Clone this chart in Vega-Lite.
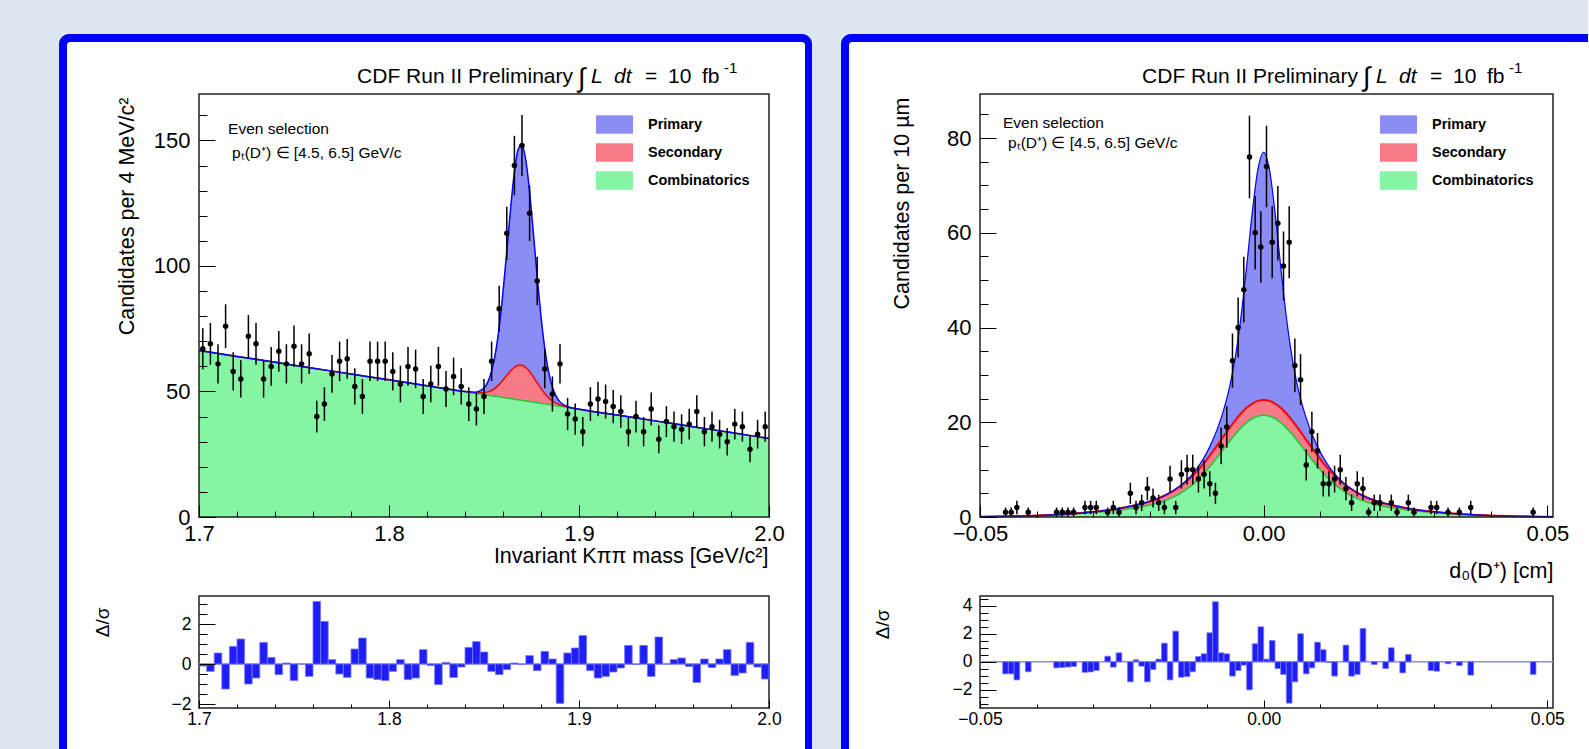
{
"$schema": "https://vega.github.io/schema/vega-lite/v6.json",
"background": "#dce6f1",
"padding": {"left": 59, "top": 33, "right": 0, "bottom": 0},
"config": {
  "font": "Liberation Sans",
  "view": {"stroke": null},
  "axis": {"domain": false, "grid": false, "labelColor": "#000", "tickColor": "#000", "titleColor": "#000", "titleFontWeight": "normal", "labelFlush": false, "labelOverlap": false, "tickWidth": 1, "labelFont": "Liberation Sans", "titleFont": "Liberation Sans"}
},
"datasets": {
"lpts": [{"m":1.702,"n":67,"e":8.19},{"m":1.706,"n":69,"e":8.31},{"m":1.710,"n":61,"e":7.81},{"m":1.714,"n":76,"e":8.72},{"m":1.718,"n":58,"e":7.62},{"m":1.722,"n":55,"e":7.42},{"m":1.726,"n":72,"e":8.49},{"m":1.730,"n":69,"e":8.31},{"m":1.734,"n":55,"e":7.42},{"m":1.738,"n":60,"e":7.75},{"m":1.742,"n":66,"e":8.12},{"m":1.746,"n":61,"e":7.81},{"m":1.750,"n":68,"e":8.25},{"m":1.754,"n":61,"e":7.81},{"m":1.758,"n":65,"e":8.06},{"m":1.762,"n":40,"e":6.32},{"m":1.766,"n":45,"e":6.71},{"m":1.770,"n":57,"e":7.55},{"m":1.774,"n":62,"e":7.87},{"m":1.778,"n":63,"e":7.94},{"m":1.782,"n":52,"e":7.21},{"m":1.786,"n":48,"e":6.93},{"m":1.790,"n":62,"e":7.87},{"m":1.794,"n":62,"e":7.87},{"m":1.798,"n":62,"e":7.87},{"m":1.802,"n":58,"e":7.62},{"m":1.806,"n":53,"e":7.28},{"m":1.810,"n":60,"e":7.75},{"m":1.814,"n":59,"e":7.68},{"m":1.818,"n":48,"e":6.93},{"m":1.822,"n":53,"e":7.28},{"m":1.826,"n":60,"e":7.75},{"m":1.830,"n":51,"e":7.14},{"m":1.834,"n":56,"e":7.48},{"m":1.838,"n":52,"e":7.21},{"m":1.842,"n":45,"e":6.71},{"m":1.846,"n":43,"e":6.56},{"m":1.850,"n":48,"e":6.93},{"m":1.854,"n":62,"e":7.87},{"m":1.858,"n":83,"e":9.11},{"m":1.862,"n":113,"e":10.63},{"m":1.866,"n":140,"e":11.83},{"m":1.870,"n":148,"e":12.17},{"m":1.874,"n":121,"e":11.0},{"m":1.878,"n":94,"e":9.7},{"m":1.882,"n":59,"e":7.68},{"m":1.886,"n":49,"e":7.0},{"m":1.890,"n":61,"e":7.81},{"m":1.894,"n":41,"e":6.4},{"m":1.898,"n":39,"e":6.24},{"m":1.902,"n":34,"e":5.83},{"m":1.906,"n":45,"e":6.71},{"m":1.910,"n":47,"e":6.86},{"m":1.914,"n":46,"e":6.78},{"m":1.918,"n":44,"e":6.63},{"m":1.922,"n":42,"e":6.48},{"m":1.926,"n":34,"e":5.83},{"m":1.930,"n":40,"e":6.32},{"m":1.934,"n":34,"e":5.83},{"m":1.938,"n":43,"e":6.56},{"m":1.942,"n":31,"e":5.57},{"m":1.946,"n":38,"e":6.16},{"m":1.950,"n":36,"e":6.0},{"m":1.954,"n":35,"e":5.92},{"m":1.958,"n":37,"e":6.08},{"m":1.962,"n":42,"e":6.48},{"m":1.966,"n":34,"e":5.83},{"m":1.970,"n":36,"e":6.0},{"m":1.974,"n":33,"e":5.74},{"m":1.978,"n":30,"e":5.48},{"m":1.982,"n":37,"e":6.08},{"m":1.986,"n":36,"e":6.0},{"m":1.990,"n":27,"e":5.2},{"m":1.994,"n":33,"e":5.74},{"m":1.998,"n":36,"e":6.0}],
"lfit": [{"m":1.70,"comb":66.3,"sec":66.3,"tot":66.3},{"m":1.72,"comb":63.97,"sec":63.97,"tot":63.97},{"m":1.74,"comb":61.63,"sec":61.63,"tot":61.63},{"m":1.76,"comb":59.3,"sec":59.3,"tot":59.3},{"m":1.78,"comb":56.96,"sec":56.96,"tot":56.96},{"m":1.80,"comb":54.63,"sec":54.63,"tot":54.63},{"m":1.82,"comb":52.29,"sec":52.29,"tot":52.29},{"m":1.84,"comb":49.96,"sec":49.97,"tot":49.97},{"m":1.845,"comb":49.38,"sec":49.51,"tot":49.7},{"m":1.85,"comb":48.8,"sec":49.52,"tot":51.32},{"m":1.852,"comb":48.56,"sec":49.84,"tot":53.74},{"m":1.854,"comb":48.33,"sec":50.47,"tot":58.07},{"m":1.856,"comb":48.1,"sec":51.47,"tot":65.17},{"m":1.858,"comb":47.86,"sec":52.84,"tot":75.64},{"m":1.86,"comb":47.63,"sec":54.55,"tot":89.55},{"m":1.862,"comb":47.4,"sec":56.42,"tot":106.02},{"m":1.864,"comb":47.16,"sec":58.21,"tot":122.81},{"m":1.866,"comb":46.93,"sec":59.65,"tot":137.35},{"m":1.868,"comb":46.7,"sec":60.46,"tot":146.46},{"m":1.87,"comb":46.46,"sec":60.43,"tot":148.23},{"m":1.872,"comb":46.23,"sec":59.56,"tot":142.16},{"m":1.874,"comb":46.0,"sec":57.95,"tot":129.55},{"m":1.876,"comb":45.76,"sec":55.83,"tot":113.03},{"m":1.878,"comb":45.53,"sec":53.49,"tot":95.59},{"m":1.88,"comb":45.29,"sec":51.21,"tot":79.81},{"m":1.882,"comb":45.06,"sec":49.19,"tot":67.09},{"m":1.884,"comb":44.83,"sec":47.54,"tot":57.84},{"m":1.886,"comb":44.59,"sec":46.26,"tot":51.76},{"m":1.888,"comb":44.36,"sec":45.33,"tot":48.03},{"m":1.89,"comb":44.13,"sec":44.66,"tot":45.86},{"m":1.895,"comb":43.54,"sec":43.63,"tot":43.73},{"m":1.90,"comb":42.96,"sec":42.96,"tot":42.96},{"m":1.92,"comb":40.62,"sec":40.62,"tot":40.62},{"m":1.94,"comb":38.29,"sec":38.29,"tot":38.29},{"m":1.96,"comb":35.96,"sec":35.96,"tot":35.96},{"m":1.98,"comb":33.62,"sec":33.62,"tot":33.62},{"m":2.0,"comb":31.29,"sec":31.29,"tot":31.29}],
"lres": [{"a":1.700,"b":1.704,"r":-0.1},{"a":1.704,"b":1.708,"r":-0.37},{"a":1.708,"b":1.712,"r":0.55},{"a":1.712,"b":1.716,"r":-1.25},{"a":1.716,"b":1.720,"r":0.88},{"a":1.720,"b":1.724,"r":1.25},{"a":1.724,"b":1.728,"r":-1.0},{"a":1.728,"b":1.732,"r":-0.7},{"a":1.732,"b":1.736,"r":1.08},{"a":1.736,"b":1.740,"r":0.33},{"a":1.740,"b":1.744,"r":-0.53},{"a":1.744,"b":1.748,"r":0.05},{"a":1.748,"b":1.752,"r":-0.83},{"a":1.752,"b":1.756,"r":0},{"a":1.756,"b":1.760,"r":-0.62},{"a":1.760,"b":1.764,"r":3.13},{"a":1.764,"b":1.768,"r":2.13},{"a":1.768,"b":1.772,"r":0.22},{"a":1.772,"b":1.776,"r":-0.5},{"a":1.776,"b":1.780,"r":-0.67},{"a":1.780,"b":1.784,"r":0.75},{"a":1.784,"b":1.788,"r":1.3},{"a":1.788,"b":1.792,"r":-0.7},{"a":1.792,"b":1.796,"r":-0.78},{"a":1.796,"b":1.800,"r":-0.83},{"a":1.800,"b":1.804,"r":-0.37},{"a":1.804,"b":1.808,"r":0.22},{"a":1.808,"b":1.812,"r":-0.78},{"a":1.812,"b":1.816,"r":-0.7},{"a":1.816,"b":1.820,"r":0.72},{"a":1.820,"b":1.824,"r":-0.08},{"a":1.824,"b":1.828,"r":-1.03},{"a":1.828,"b":1.832,"r":0.08},{"a":1.832,"b":1.836,"r":-0.67},{"a":1.836,"b":1.840,"r":-0.15},{"a":1.840,"b":1.844,"r":0.83},{"a":1.844,"b":1.848,"r":1.12},{"a":1.848,"b":1.852,"r":0.6},{"a":1.852,"b":1.856,"r":-0.37},{"a":1.856,"b":1.860,"r":-0.53},{"a":1.860,"b":1.864,"r":-0.28},{"a":1.864,"b":1.868,"r":0.05},{"a":1.868,"b":1.872,"r":-0.03},{"a":1.872,"b":1.876,"r":0.42},{"a":1.876,"b":1.880,"r":-0.33},{"a":1.880,"b":1.884,"r":0.63},{"a":1.884,"b":1.888,"r":0.25},{"a":1.888,"b":1.892,"r":-1.97},{"a":1.892,"b":1.896,"r":0.55},{"a":1.896,"b":1.900,"r":0.8},{"a":1.900,"b":1.904,"r":1.42},{"a":1.904,"b":1.908,"r":-0.33},{"a":1.908,"b":1.912,"r":-0.7},{"a":1.912,"b":1.916,"r":-0.62},{"a":1.916,"b":1.920,"r":-0.4},{"a":1.920,"b":1.924,"r":-0.2},{"a":1.924,"b":1.928,"r":0.93},{"a":1.928,"b":1.932,"r":-0.03},{"a":1.932,"b":1.936,"r":0.93},{"a":1.936,"b":1.940,"r":-0.62},{"a":1.940,"b":1.944,"r":1.35},{"a":1.944,"b":1.948,"r":0},{"a":1.948,"b":1.952,"r":0.22},{"a":1.952,"b":1.956,"r":0.3},{"a":1.956,"b":1.960,"r":-0.12},{"a":1.960,"b":1.964,"r":-0.92},{"a":1.964,"b":1.968,"r":0.25},{"a":1.968,"b":1.972,"r":-0.17},{"a":1.972,"b":1.976,"r":0.25},{"a":1.976,"b":1.980,"r":0.72},{"a":1.980,"b":1.984,"r":-0.57},{"a":1.984,"b":1.988,"r":-0.45},{"a":1.988,"b":1.992,"r":1.08},{"a":1.992,"b":1.996,"r":-0.15},{"a":1.996,"b":2.000,"r":-0.75}],
"rpts": [{"d":-0.0455,"n":1,"e":1},{"d":-0.0445,"n":1,"e":1},{"d":-0.0435,"n":2,"e":1.41},{"d":-0.0415,"n":1,"e":1},{"d":-0.0365,"n":1,"e":1},{"d":-0.0355,"n":1,"e":1},{"d":-0.0345,"n":1,"e":1},{"d":-0.0335,"n":1,"e":1},{"d":-0.0315,"n":2,"e":1.41},{"d":-0.0305,"n":2,"e":1.41},{"d":-0.0295,"n":2,"e":1.41},{"d":-0.0275,"n":1,"e":1},{"d":-0.0265,"n":2,"e":1.41},{"d":-0.0255,"n":1,"e":1},{"d":-0.0235,"n":5,"e":2.24},{"d":-0.0225,"n":2,"e":1.41},{"d":-0.0215,"n":3,"e":1.73},{"d":-0.0205,"n":6,"e":2.45},{"d":-0.0195,"n":4,"e":2},{"d":-0.0185,"n":3,"e":1.73},{"d":-0.0175,"n":2,"e":1.41},{"d":-0.0165,"n":8,"e":2.83},{"d":-0.0155,"n":2,"e":1.41},{"d":-0.0145,"n":9,"e":3},{"d":-0.0135,"n":10,"e":3.16},{"d":-0.0125,"n":10,"e":3.16},{"d":-0.0115,"n":8,"e":2.83},{"d":-0.0105,"n":9,"e":3},{"d":-0.0095,"n":7,"e":2.65},{"d":-0.0085,"n":5,"e":2.24},{"d":-0.0075,"n":15,"e":3.87},{"d":-0.0065,"n":19,"e":4.36},{"d":-0.0055,"n":33,"e":5.74},{"d":-0.0045,"n":40,"e":6.32},{"d":-0.0035,"n":48,"e":6.93},{"d":-0.0025,"n":76,"e":8.72},{"d":-0.0015,"n":60,"e":7.75},{"d":-0.0005,"n":57,"e":7.55},{"d":0.0005,"n":74,"e":8.6},{"d":0.0015,"n":58,"e":7.62},{"d":0.0025,"n":62,"e":7.87},{"d":0.0035,"n":53,"e":7.28},{"d":0.0045,"n":58,"e":7.62},{"d":0.0055,"n":32,"e":5.66},{"d":0.0065,"n":29,"e":5.39},{"d":0.0075,"n":11,"e":3.32},{"d":0.0085,"n":18,"e":4.24},{"d":0.0095,"n":14,"e":3.74},{"d":0.0105,"n":7,"e":2.65},{"d":0.0115,"n":7,"e":2.65},{"d":0.0125,"n":8,"e":2.83},{"d":0.0135,"n":10,"e":3.16},{"d":0.0145,"n":6,"e":2.45},{"d":0.0155,"n":3,"e":1.73},{"d":0.0165,"n":7,"e":2.65},{"d":0.0175,"n":6,"e":2.45},{"d":0.0185,"n":1,"e":1},{"d":0.0195,"n":3,"e":1.73},{"d":0.0205,"n":3,"e":1.73},{"d":0.0225,"n":3,"e":1.73},{"d":0.0235,"n":1,"e":1},{"d":0.0255,"n":3,"e":1.73},{"d":0.0265,"n":1,"e":1},{"d":0.0295,"n":2,"e":1.41},{"d":0.0305,"n":2,"e":1.41},{"d":0.0325,"n":1,"e":1},{"d":0.0345,"n":1,"e":1},{"d":0.0365,"n":2,"e":1.41},{"d":0.0475,"n":1,"e":1}],
"rfit": [{"d":-0.05,"comb":0.06,"sec":0.06,"tot":0.06},{"d":-0.045,"comb":0.14,"sec":0.15,"tot":0.15},{"d":-0.04,"comb":0.28,"sec":0.3,"tot":0.3},{"d":-0.035,"comb":0.54,"sec":0.59,"tot":0.59},{"d":-0.03,"comb":0.95,"sec":1.09,"tot":1.09},{"d":-0.025,"comb":1.54,"sec":1.91,"tot":1.91},{"d":-0.02,"comb":2.54,"sec":3.34,"tot":3.34},{"d":-0.018,"comb":3.19,"sec":4.23,"tot":4.23},{"d":-0.016,"comb":4.14,"sec":5.46,"tot":5.49},{"d":-0.014,"comb":5.51,"sec":7.13,"tot":7.27},{"d":-0.012,"comb":7.42,"sec":9.36,"tot":9.85},{"d":-0.011,"comb":8.6,"sec":10.7,"tot":11.57},{"d":-0.01,"comb":9.92,"sec":12.18,"tot":13.64},{"d":-0.009,"comb":11.35,"sec":13.77,"tot":16.14},{"d":-0.008,"comb":12.88,"sec":15.44,"tot":19.14},{"d":-0.007,"comb":14.45,"sec":17.15,"tot":22.81},{"d":-0.006,"comb":16.0,"sec":18.82,"tot":27.47},{"d":-0.005,"comb":17.48,"sec":20.41,"tot":33.74},{"d":-0.004,"comb":18.82,"sec":21.85,"tot":42.23},{"d":-0.003,"comb":19.94,"sec":23.04,"tot":52.92},{"d":-0.002,"comb":20.79,"sec":23.95,"tot":64.36},{"d":-0.001,"comb":21.32,"sec":24.51,"tot":73.48},{"d":0,"comb":21.5,"sec":24.7,"tot":77.0},{"d":0.001,"comb":21.32,"sec":24.51,"tot":73.48},{"d":0.002,"comb":20.79,"sec":23.95,"tot":64.36},{"d":0.003,"comb":19.94,"sec":23.04,"tot":52.92},{"d":0.004,"comb":18.82,"sec":21.85,"tot":42.23},{"d":0.005,"comb":17.48,"sec":20.41,"tot":33.74},{"d":0.006,"comb":16.0,"sec":18.82,"tot":27.47},{"d":0.007,"comb":14.45,"sec":17.15,"tot":22.81},{"d":0.008,"comb":12.88,"sec":15.44,"tot":19.14},{"d":0.009,"comb":11.35,"sec":13.77,"tot":16.14},{"d":0.01,"comb":9.92,"sec":12.18,"tot":13.64},{"d":0.011,"comb":8.6,"sec":10.7,"tot":11.57},{"d":0.012,"comb":7.42,"sec":9.36,"tot":9.85},{"d":0.014,"comb":5.51,"sec":7.13,"tot":7.27},{"d":0.016,"comb":4.14,"sec":5.46,"tot":5.49},{"d":0.018,"comb":3.19,"sec":4.23,"tot":4.23},{"d":0.02,"comb":2.54,"sec":3.34,"tot":3.34},{"d":0.025,"comb":1.54,"sec":1.91,"tot":1.91},{"d":0.03,"comb":0.95,"sec":1.09,"tot":1.09},{"d":0.035,"comb":0.54,"sec":0.59,"tot":0.59},{"d":0.04,"comb":0.28,"sec":0.3,"tot":0.3},{"d":0.045,"comb":0.14,"sec":0.15,"tot":0.15},{"d":0.05,"comb":0.06,"sec":0.06,"tot":0.06},{"d":0.051,"comb":0.05,"sec":0.05,"tot":0.05}],
"rres": [{"a":-0.046,"b":-0.045,"r":-0.86},{"a":-0.045,"b":-0.044,"r":-0.86},{"a":-0.044,"b":-0.043,"r":-1.29},{"a":-0.042,"b":-0.041,"r":-0.71},{"a":-0.037,"b":-0.036,"r":-0.43},{"a":-0.036,"b":-0.035,"r":-0.4},{"a":-0.035,"b":-0.034,"r":-0.37},{"a":-0.034,"b":-0.033,"r":-0.33},{"a":-0.032,"b":-0.031,"r":-0.75},{"a":-0.031,"b":-0.030,"r":-0.72},{"a":-0.030,"b":-0.029,"r":-0.62},{"a":-0.028,"b":-0.027,"r":0.4},{"a":-0.027,"b":-0.026,"r":-0.38},{"a":-0.026,"b":-0.025,"r":0.64},{"a":-0.024,"b":-0.023,"r":-1.43},{"a":-0.023,"b":-0.022,"r":0.14},{"a":-0.022,"b":-0.021,"r":-0.31},{"a":-0.021,"b":-0.020,"r":-1.43},{"a":-0.020,"b":-0.019,"r":-0.55},{"a":-0.019,"b":-0.018,"r":0.19},{"a":-0.018,"b":-0.017,"r":1.33},{"a":-0.017,"b":-0.016,"r":-1.29},{"a":-0.016,"b":-0.015,"r":2.19},{"a":-0.015,"b":-0.014,"r":-1.1},{"a":-0.014,"b":-0.013,"r":-1.05},{"a":-0.013,"b":-0.012,"r":-0.71},{"a":-0.012,"b":-0.011,"r":0.38},{"a":-0.011,"b":-0.010,"r":0.57},{"a":-0.010,"b":-0.009,"r":2.07},{"a":-0.009,"b":-0.008,"r":4.29},{"a":-0.008,"b":-0.007,"r":0.64},{"a":-0.007,"b":-0.006,"r":0.57},{"a":-0.006,"b":-0.005,"r":-1.02},{"a":-0.005,"b":-0.004,"r":-0.62},{"a":-0.004,"b":-0.003,"r":-0.24},{"a":-0.003,"b":-0.002,"r":-2.0},{"a":-0.002,"b":-0.001,"r":1.29},{"a":-0.001,"b":0.0,"r":2.5},{"a":0.0,"b":0.001,"r":0.19},{"a":0.001,"b":0.002,"r":1.52},{"a":0.002,"b":0.003,"r":-0.48},{"a":0.003,"b":0.004,"r":-0.9},{"a":0.004,"b":0.005,"r":-2.95},{"a":0.005,"b":0.006,"r":-1.43},{"a":0.006,"b":0.007,"r":2.0},{"a":0.007,"b":0.008,"r":-0.86},{"a":0.008,"b":0.009,"r":-0.43},{"a":0.009,"b":0.010,"r":1.4},{"a":0.010,"b":0.011,"r":0.86},{"a":0.011,"b":0.012,"r":-0.05},{"a":0.012,"b":0.013,"r":-1.02},{"a":0.014,"b":0.015,"r":1.19},{"a":0.015,"b":0.016,"r":-1.02},{"a":0.016,"b":0.017,"r":-0.9},{"a":0.017,"b":0.018,"r":2.38},{"a":0.019,"b":0.020,"r":-0.19},{"a":0.021,"b":0.022,"r":-0.48},{"a":0.022,"b":0.023,"r":1.0},{"a":0.024,"b":0.025,"r":-0.79},{"a":0.025,"b":0.026,"r":0.52},{"a":0.029,"b":0.030,"r":-0.62},{"a":0.030,"b":0.031,"r":-0.67},{"a":0.032,"b":0.033,"r":-0.14},{"a":0.034,"b":0.035,"r":-0.26},{"a":0.036,"b":0.037,"r":-0.95},{"a":0.047,"b":0.048,"r":-0.9}]
},
"concat": [
   {
    "width": 570, "height": 423,
    "layer": [
     {"data": {"values": [{}]}, "mark": {"type": "rect", "color": "#0000ff", "cornerRadiusTopLeft": 10, "cornerRadiusTopRight": 10},
      "encoding": {"x": {"datum": 1.62632}, "x2": {"datum": 2.02263}, "y": {"datum": 192.4}, "y2": {"datum": -92.42}}},
     {"data": {"values": [{}]}, "mark": {"type": "rect", "color": "#ffffff", "cornerRadiusTopLeft": 3, "cornerRadiusTopRight": 3},
      "encoding": {"x": {"datum": 1.63053}, "x2": {"datum": 2.01895}, "y": {"datum": 189.21}, "y2": {"datum": -92.42}}},
     {"data": {"name": "lfit"}, "mark": {"type": "area", "interpolate": "monotone", "opacity": 1},
      "encoding": {
       "x": {"field": "m", "type": "quantitative", "scale": {"domain": [1.7, 2.0], "nice": false, "zero": false},
             "axis": {"zindex": 2, "tickCount": 200, "labelOverlap": false, "title": "Invariant Kππ mass [GeV/c²]", "values": [1.7,1.72,1.74,1.76,1.78,1.8,1.82,1.84,1.86,1.88,1.9,1.92,1.94,1.96,1.98,2.0],
                      "labelExpr": "abs(datum.value*10-round(datum.value*10))<1e-6 ? format(datum.value,'.1f') : ''",
                      "tickSize": {"condition": {"test": "abs(datum.value*10-round(datum.value*10))<1e-6", "value": -12}, "value": -6},
                      "labelPadding": 18, "labelFontSize": 22, "titleFontSize": 21.5, "titleX": 569, "titleY": 39, "titleAlign": "right", "titleBaseline": "middle"}},
       "y": {"field": "comb", "type": "quantitative", "scale": {"domain": [0, 168.5], "nice": false},
             "axis": {"zindex": 2, "tickCount": 200, "labelOverlap": false, "title": "Candidates per 4 MeV/c²", "values": [0,10,20,30,40,50,60,70,80,90,100,110,120,130,140,150,160],
                      "labelExpr": "datum.value % 50 === 0 ? format(datum.value,'d') : ''",
                      "tickSize": {"condition": {"test": "datum.value % 50 === 0", "value": -16}, "value": -8},
                      "labelPadding": 25, "labelFontSize": 22, "titleFontSize": 21.5, "titleAngle": 270, "titleX": -72, "titleY": 3, "titleAlign": "right", "titleBaseline": "middle"}},
       "y2": {"datum": 0},
       "color": {"datum": "Combinatorics", "scale": {"domain": ["Primary", "Secondary", "Combinatorics"], "range": ["#8c8cf5", "#f77b86", "#86f5a3"]},
                 "legend": {"orient": "none", "legendX": 397, "legendY": 12, "title": null, "symbolType": "M-1,-0.5H1V0.5H-1Z", "symbolSize": 1369, "labelFontSize": 14.5, "labelFontWeight": "bold", "labelOffset": 15, "rowPadding": -5, "symbolStrokeWidth": 0, "padding": 0, "labelColor": "#000", "symbolOpacity": 1, "zindex": 3}}
      }},
     {"data": {"name": "lfit"}, "mark": {"type": "area", "interpolate": "monotone", "opacity": 1},
      "encoding": {"x": {"field": "m", "type": "quantitative"}, "y": {"field": "sec", "type": "quantitative"}, "y2": {"field": "comb"}, "color": {"datum": "Secondary"}}},
     {"data": {"name": "lfit"}, "mark": {"type": "area", "interpolate": "monotone", "opacity": 1},
      "encoding": {"x": {"field": "m", "type": "quantitative"}, "y": {"field": "tot", "type": "quantitative"}, "y2": {"field": "sec"}, "color": {"datum": "Primary"}}},
     {"data": {"name": "lfit"}, "mark": {"type": "line", "interpolate": "monotone", "color": "#1ec83c", "strokeWidth": 1.5},
      "encoding": {"x": {"field": "m", "type": "quantitative"}, "y": {"field": "comb", "type": "quantitative"}}},
     {"data": {"name": "lfit"}, "mark": {"type": "line", "interpolate": "monotone", "color": "#ff0000", "strokeWidth": 1.5},
      "encoding": {"x": {"field": "m", "type": "quantitative"}, "y": {"field": "sec", "type": "quantitative"}}},
     {"data": {"name": "lfit"}, "mark": {"type": "line", "interpolate": "monotone", "color": "#0000ff", "strokeWidth": 1.5},
      "encoding": {"x": {"field": "m", "type": "quantitative"}, "y": {"field": "tot", "type": "quantitative"}}},
     {"data": {"name": "lpts"}, "mark": {"type": "errorbar", "color": "#000", "thickness": 1.5},
      "encoding": {"x": {"field": "m", "type": "quantitative", "title": "Invariant Kππ mass [GeV/c²]"}, "y": {"field": "n", "type": "quantitative", "title": "Candidates per 4 MeV/c²"}, "yError": {"field": "e"}}},
     {"data": {"name": "lpts"}, "mark": {"type": "point", "filled": true, "color": "#000", "size": 30, "opacity": 1},
      "encoding": {"x": {"field": "m", "type": "quantitative", "title": "Invariant Kππ mass [GeV/c²]"}, "y": {"field": "n", "type": "quantitative", "title": "Candidates per 4 MeV/c²"}}},
     {"data": {"values": [{}]}, "mark": {"type": "rect", "filled": false, "stroke": "#222", "strokeWidth": 1.5},
      "encoding": {"x": {"datum": 1.7}, "x2": {"datum": 2.0}, "y": {"datum": 0}, "y2": {"datum": 168.5}}},
     {"data": {"values": [{}]}, "mark": {"type": "text", "align": "right", "baseline": "middle", "fontSize": 21, "color": "#000"},
      "encoding": {"x": {"datum": 1.89684}, "y": {"datum": 175.3}, "text": {"value": "CDF Run II Preliminary"}}},
     {"data": {"values": [{}]}, "mark": {"type": "text", "align": "left", "baseline": "middle", "fontSize": 27, "color": "#000"},
      "encoding": {"x": {"datum": 1.89947}, "y": {"datum": 174.5}, "text": {"value": "∫"}}},
     {"data": {"values": [{}]}, "mark": {"type": "text", "align": "left", "baseline": "middle", "fontSize": 21, "fontStyle": "italic", "color": "#000"},
      "encoding": {"x": {"datum": 1.90632}, "y": {"datum": 175.3}, "text": {"value": "L"}}},
     {"data": {"values": [{}]}, "mark": {"type": "text", "align": "left", "baseline": "middle", "fontSize": 21, "fontStyle": "italic", "color": "#000"},
      "encoding": {"x": {"datum": 1.91842}, "y": {"datum": 175.3}, "text": {"value": "dt"}}},
     {"data": {"values": [{}]}, "mark": {"type": "text", "align": "left", "baseline": "middle", "fontSize": 21, "color": "#000"},
      "encoding": {"x": {"datum": 1.93474}, "y": {"datum": 175.3}, "text": {"value": "="}}},
     {"data": {"values": [{}]}, "mark": {"type": "text", "align": "left", "baseline": "middle", "fontSize": 21, "color": "#000"},
      "encoding": {"x": {"datum": 1.94684}, "y": {"datum": 175.3}, "text": {"value": "10"}}},
     {"data": {"values": [{}]}, "mark": {"type": "text", "align": "left", "baseline": "middle", "fontSize": 21, "color": "#000"},
      "encoding": {"x": {"datum": 1.96474}, "y": {"datum": 175.3}, "text": {"value": "fb"}}},
     {"data": {"values": [{}]}, "mark": {"type": "text", "align": "left", "baseline": "middle", "fontSize": 15, "color": "#000"},
      "encoding": {"x": {"datum": 1.97632}, "y": {"datum": 178.8}, "text": {"value": "-1"}}},
     {"data": {"values": [{}]}, "mark": {"type": "text", "align": "left", "baseline": "middle", "fontSize": 15.5, "color": "#000"},
      "encoding": {"x": {"datum": 1.7153}, "y": {"datum": 154.6}, "text": {"value": "Even selection"}}},
     {"data": {"values": [{}]}, "mark": {"type": "text", "align": "left", "baseline": "middle", "fontSize": 15.5, "color": "#000"},
      "encoding": {"x": {"datum": 1.7174}, "y": {"datum": 145.0}, "text": {"value": "pₜ(D⁺) ∈ [4.5, 6.5] GeV/c"}}}
    ]
   },
   {
    "width": 573, "height": 423,
    "layer": [
     {"data": {"values": [{}]}, "mark": {"type": "rect", "color": "#0000ff", "cornerRadiusTopLeft": 10},
      "encoding": {"x": {"datum": -0.074501}, "x2": {"datum": 0.057169}, "y": {"datum": 101.97}, "y2": {"datum": -48.98}}},
     {"data": {"values": [{}]}, "mark": {"type": "rect", "color": "#ffffff", "cornerRadiusTopLeft": 3},
      "encoding": {"x": {"datum": -0.073091}, "x2": {"datum": 0.057169}, "y": {"datum": 100.28}, "y2": {"datum": -48.98}}},
     {"data": {"name": "rfit"}, "mark": {"type": "area", "interpolate": "monotone", "opacity": 1},
      "encoding": {
       "x": {"field": "d", "type": "quantitative", "scale": {"domain": [-0.05, 0.051], "nice": false, "zero": false},
             "axis": {"zindex": 2, "tickCount": 200, "labelOverlap": false, "title": "d₀(D⁺) [cm]", "values": [-0.05,-0.04,-0.03,-0.02,-0.01,0,0.01,0.02,0.03,0.04,0.05],
                      "labelExpr": "abs(datum.value*20-round(datum.value*20))<1e-6 ? format(datum.value,'.2f') : ''",
                      "tickSize": {"condition": {"test": "abs(datum.value*20-round(datum.value*20))<1e-6", "value": -12}, "value": -6},
                      "labelPadding": 18, "labelFontSize": 22, "titleFontSize": 21.5, "titleX": 573, "titleY": 54, "titleAlign": "right", "titleBaseline": "middle"}},
       "y": {"field": "comb", "type": "quantitative", "scale": {"domain": [0, 89.3], "nice": false},
             "axis": {"zindex": 2, "tickCount": 200, "labelOverlap": false, "title": "Candidates per 10 µm", "values": [0,5,10,15,20,25,30,35,40,45,50,55,60,65,70,75,80,85],
                      "labelExpr": "datum.value % 20 === 0 ? format(datum.value,'d') : ''",
                      "tickSize": {"condition": {"test": "datum.value % 20 === 0", "value": -16}, "value": -8},
                      "labelPadding": 25, "labelFontSize": 22, "titleFontSize": 21.5, "titleAngle": 270, "titleX": -78, "titleY": 3, "titleAlign": "right", "titleBaseline": "middle"}},
       "y2": {"datum": 0},
       "color": {"datum": "Combinatorics", "scale": {"domain": ["Primary", "Secondary", "Combinatorics"], "range": ["#8c8cf5", "#f77b86", "#86f5a3"]},
                 "legend": {"orient": "none", "legendX": 400, "legendY": 12, "title": null, "symbolType": "M-1,-0.5H1V0.5H-1Z", "symbolSize": 1369, "labelFontSize": 14.5, "labelFontWeight": "bold", "labelOffset": 15, "rowPadding": -5, "symbolStrokeWidth": 0, "padding": 0, "labelColor": "#000", "symbolOpacity": 1, "zindex": 3}}
      }},
     {"data": {"name": "rfit"}, "mark": {"type": "area", "interpolate": "monotone", "opacity": 1},
      "encoding": {"x": {"field": "d", "type": "quantitative"}, "y": {"field": "sec", "type": "quantitative"}, "y2": {"field": "comb"}, "color": {"datum": "Secondary"}}},
     {"data": {"name": "rfit"}, "mark": {"type": "area", "interpolate": "monotone", "opacity": 1},
      "encoding": {"x": {"field": "d", "type": "quantitative"}, "y": {"field": "tot", "type": "quantitative"}, "y2": {"field": "sec"}, "color": {"datum": "Primary"}}},
     {"data": {"name": "rfit"}, "mark": {"type": "line", "interpolate": "monotone", "color": "#1ec83c", "strokeWidth": 1.5},
      "encoding": {"x": {"field": "d", "type": "quantitative"}, "y": {"field": "comb", "type": "quantitative"}}},
     {"data": {"name": "rfit"}, "mark": {"type": "line", "interpolate": "monotone", "color": "#ff0000", "strokeWidth": 2},
      "encoding": {"x": {"field": "d", "type": "quantitative"}, "y": {"field": "sec", "type": "quantitative"}}},
     {"data": {"name": "rfit"}, "mark": {"type": "line", "interpolate": "monotone", "color": "#0000ff", "strokeWidth": 1.2},
      "encoding": {"x": {"field": "d", "type": "quantitative"}, "y": {"field": "tot", "type": "quantitative"}}},
     {"data": {"name": "rpts"}, "mark": {"type": "errorbar", "color": "#000", "thickness": 1.5},
      "encoding": {"x": {"field": "d", "type": "quantitative", "title": "d₀(D⁺) [cm]"}, "y": {"field": "n", "type": "quantitative", "title": "Candidates per 10 µm"}, "yError": {"field": "e"}}},
     {"data": {"name": "rpts"}, "mark": {"type": "point", "filled": true, "color": "#000", "size": 30, "opacity": 1},
      "encoding": {"x": {"field": "d", "type": "quantitative", "title": "d₀(D⁺) [cm]"}, "y": {"field": "n", "type": "quantitative", "title": "Candidates per 10 µm"}}},
     {"data": {"values": [{}]}, "mark": {"type": "rect", "filled": false, "stroke": "#222", "strokeWidth": 1.5},
      "encoding": {"x": {"datum": -0.05}, "x2": {"datum": 0.051}, "y": {"datum": 0}, "y2": {"datum": 89.3}}},
     {"data": {"values": [{}]}, "mark": {"type": "text", "align": "right", "baseline": "middle", "fontSize": 21, "color": "#000"},
      "encoding": {"x": {"datum": 0.016628}, "y": {"datum": 92.9}, "text": {"value": "CDF Run II Preliminary"}}},
     {"data": {"values": [{}]}, "mark": {"type": "text", "align": "left", "baseline": "middle", "fontSize": 27, "color": "#000"},
      "encoding": {"x": {"datum": 0.017509}, "y": {"datum": 92.75}, "text": {"value": "∫"}}},
     {"data": {"values": [{}]}, "mark": {"type": "text", "align": "left", "baseline": "middle", "fontSize": 21, "fontStyle": "italic", "color": "#000"},
      "encoding": {"x": {"datum": 0.019801}, "y": {"datum": 92.9}, "text": {"value": "L"}}},
     {"data": {"values": [{}]}, "mark": {"type": "text", "align": "left", "baseline": "middle", "fontSize": 21, "fontStyle": "italic", "color": "#000"},
      "encoding": {"x": {"datum": 0.023855}, "y": {"datum": 92.9}, "text": {"value": "dt"}}},
     {"data": {"values": [{}]}, "mark": {"type": "text", "align": "left", "baseline": "middle", "fontSize": 21, "color": "#000"},
      "encoding": {"x": {"datum": 0.029319}, "y": {"datum": 92.9}, "text": {"value": "="}}},
     {"data": {"values": [{}]}, "mark": {"type": "text", "align": "left", "baseline": "middle", "fontSize": 21, "color": "#000"},
      "encoding": {"x": {"datum": 0.033373}, "y": {"datum": 92.9}, "text": {"value": "10"}}},
     {"data": {"values": [{}]}, "mark": {"type": "text", "align": "left", "baseline": "middle", "fontSize": 21, "color": "#000"},
      "encoding": {"x": {"datum": 0.039366}, "y": {"datum": 92.9}, "text": {"value": "fb"}}},
     {"data": {"values": [{}]}, "mark": {"type": "text", "align": "left", "baseline": "middle", "fontSize": 15, "color": "#000"},
      "encoding": {"x": {"datum": 0.043244}, "y": {"datum": 94.7}, "text": {"value": "-1"}}},
     {"data": {"values": [{}]}, "mark": {"type": "text", "align": "left", "baseline": "middle", "fontSize": 15.5, "color": "#000"},
      "encoding": {"x": {"datum": -0.04595}, "y": {"datum": 83.2}, "text": {"value": "Even selection"}}},
     {"data": {"values": [{}]}, "mark": {"type": "text", "align": "left", "baseline": "middle", "fontSize": 15.5, "color": "#000"},
      "encoding": {"x": {"datum": -0.04506}, "y": {"datum": 79.0}, "text": {"value": "pₜ(D⁺) ∈ [4.5, 6.5] GeV/c"}}}
    ]
   },
   {
    "width": 570, "height": 112,
    "view": {"stroke": "#222", "strokeWidth": 1.5},
    "layer": [
     {"data": {"values": [{}]}, "mark": {"type": "rule", "color": "#8c8cff", "strokeWidth": 1.5},
      "encoding": {"y": {"datum": 0}}},
     {"data": {"name": "lres"}, "mark": {"type": "bar", "color": "#1e1ef5", "stroke": "#7777ff", "strokeWidth": 0.8},
      "encoding": {
       "x": {"field": "a", "type": "quantitative", "scale": {"domain": [1.7, 2.0], "nice": false, "zero": false},
             "axis": {"zindex": 2, "tickCount": 200, "labelOverlap": false, "title": null, "values": [1.7,1.72,1.74,1.76,1.78,1.8,1.82,1.84,1.86,1.88,1.9,1.92,1.94,1.96,1.98,2.0],
                      "labelExpr": "abs(datum.value*10-round(datum.value*10))<1e-6 ? format(datum.value,'.1f') : ''",
                      "tickSize": {"condition": {"test": "abs(datum.value*10-round(datum.value*10))<1e-6", "value": -8}, "value": -4},
                      "labelPadding": 10, "labelFontSize": 17.5}},
       "x2": {"field": "b"},
       "y": {"field": "r", "type": "quantitative", "scale": {"domain": [-2.2, 3.4], "nice": false, "zero": false},
             "axis": {"zindex": 2, "tickCount": 200, "labelOverlap": false, "title": "Δ/σ", "values": [-2,-1.5,-1,-0.5,0,0.5,1,1.5,2,2.5,3],
                      "labelExpr": "datum.value % 2 === 0 ? format(datum.value,'d') : ''",
                      "tickSize": {"condition": {"test": "datum.value % 2 === 0", "value": -16}, "value": -8},
                      "labelPadding": 24, "labelFontSize": 17.5, "titleFontSize": 19, "titleAngle": 270, "titleX": -97, "titleY": 11, "titleAlign": "right", "titleBaseline": "middle"}},
       "y2": {"datum": 0}
      }}
    ]
   },
   {
    "width": 573, "height": 112,
    "view": {"stroke": "#222", "strokeWidth": 1.5},
    "layer": [
     {"data": {"values": [{}]}, "mark": {"type": "rule", "color": "#8c8cff", "strokeWidth": 1.5},
      "encoding": {"y": {"datum": 0}}},
     {"data": {"name": "rres"}, "mark": {"type": "bar", "color": "#1e1ef5", "stroke": "#7777ff", "strokeWidth": 0.8},
      "encoding": {
       "x": {"field": "a", "type": "quantitative", "scale": {"domain": [-0.05, 0.051], "nice": false, "zero": false},
             "axis": {"zindex": 2, "tickCount": 200, "labelOverlap": false, "title": null, "values": [-0.05,-0.04,-0.03,-0.02,-0.01,0,0.01,0.02,0.03,0.04,0.05],
                      "labelExpr": "abs(datum.value*20-round(datum.value*20))<1e-6 ? format(datum.value,'.2f') : ''",
                      "tickSize": {"condition": {"test": "abs(datum.value*20-round(datum.value*20))<1e-6", "value": -8}, "value": -4},
                      "labelPadding": 10, "labelFontSize": 17.5}},
       "x2": {"field": "b"},
       "y": {"field": "r", "type": "quantitative", "scale": {"domain": [-3.3, 4.7], "nice": false, "zero": false},
             "axis": {"zindex": 2, "tickCount": 200, "labelOverlap": false, "title": "Δ/σ", "values": [-3,-2.5,-2,-1.5,-1,-0.5,0,0.5,1,1.5,2,2.5,3,3.5,4,4.5],
                      "labelExpr": "datum.value % 2 === 0 ? format(datum.value,'d') : ''",
                      "tickSize": {"condition": {"test": "datum.value % 2 === 0", "value": -16}, "value": -8},
                      "labelPadding": 24, "labelFontSize": 17.5, "titleFontSize": 19, "titleAngle": 270, "titleX": -98, "titleY": 13, "titleAlign": "right", "titleBaseline": "middle"}},
       "y2": {"datum": 0}
      }}
    ]
   }
],
"columns": 2,
"spacing": {"row": 79, "column": 211},
"bounds": "flush",
"resolve": {"scale": {"color": "independent"}, "legend": {"color": "independent"}}
}
